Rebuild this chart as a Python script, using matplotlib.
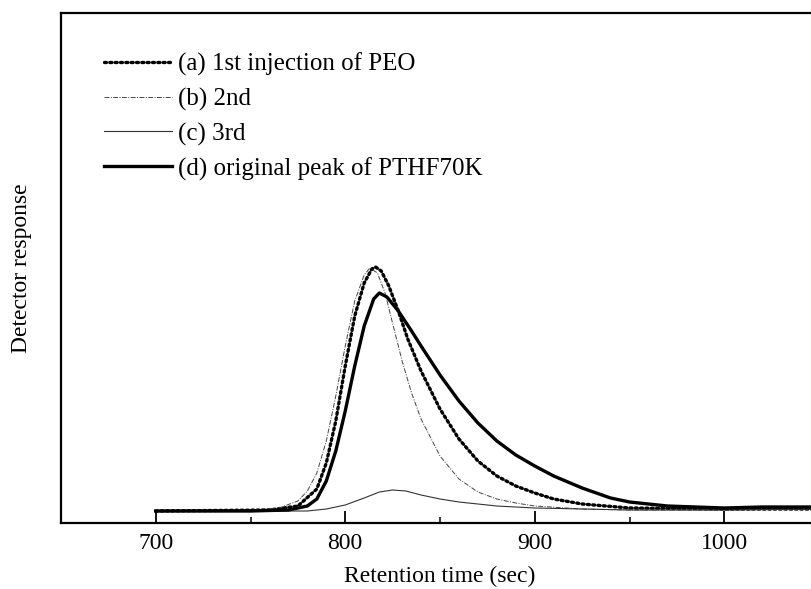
import matplotlib
matplotlib.use("Agg")
import matplotlib.pyplot as plt
from matplotlib.ticker import MultipleLocator

plt.rcParams['font.family'] = ['Liberation Serif', 'DejaVu Serif']

# retention time (sec) and detector response (arbitrary units)
t_a = [700, 760, 775, 785, 790, 795, 800, 805, 810, 814, 816, 819, 823, 828, 833,
       840, 850, 860, 870, 880, 890, 900, 910, 925, 950, 1000, 1050]
y_a = [0, 1, 5, 22, 48, 90, 145, 195, 228, 242, 244, 240, 225, 200, 172,
       140, 102, 72, 50, 35, 25, 18, 12, 7, 3, 2, 2]

t_b = [700, 750, 765, 775, 780, 785, 790, 795, 800, 805, 810, 813, 817, 821, 826,
       830, 835, 840, 850, 860, 870, 880, 890, 900, 925, 950, 1000, 1050]
y_b = [0, 1, 3, 10, 20, 38, 70, 115, 165, 210, 236, 243, 238, 218, 180,
       150, 118, 92, 55, 32, 19, 12, 8, 5, 2, 1, 1, 2]

t_c = [700, 780, 790, 800, 810, 818, 825, 832, 840, 850, 860, 870, 880, 900, 950,
       1000, 1050]
y_c = [0, 0, 2, 6, 13, 19, 21, 20, 16, 12, 9, 7, 5, 3, 1, 1, 2]

t_d = [700, 750, 770, 780, 785, 790, 795, 800, 805, 810, 815, 818, 822, 828, 835,
       840, 850, 860, 870, 880, 890, 900, 910, 925, 940, 950, 970, 1000, 1020, 1050]
y_d = [0, 0, 1, 5, 12, 30, 60, 100, 145, 185, 212, 218, 214, 200, 180,
       165, 136, 110, 88, 70, 56, 45, 35, 23, 13, 9, 5, 3, 4, 4]

labels = ['(a) 1st injection of PEO', '(b) 2nd', '(c) 3rd', '(d) original peak of PTHF70K']

fig = plt.figure(figsize=(8.11, 5.89), dpi=100)
ax = fig.add_axes([61 / 811, 1 - 523 / 589, (819 - 61) / 811, (523 - 13) / 589])

ax.plot(t_a, y_a, color='black', lw=2.4, linestyle=(0, (0.6, 1.0)),
        dash_capstyle='round', label=labels[0])
ax.plot(t_b, y_b, color='#444444', lw=0.7, linestyle=(0, (5, 1.5, 1, 1.5)), label=labels[1])
ax.plot(t_c, y_c, color='#333333', lw=0.8, label=labels[2])
ax.plot(t_d, y_d, color='black', lw=2.4, label=labels[3])

ax.set_xlim(650, 1050)
ax.set_ylim(-12, 498)
ax.xaxis.set_major_locator(MultipleLocator(100))
ax.xaxis.set_minor_locator(MultipleLocator(50))
ax.set_yticks([])
ax.tick_params(axis='x', which='major', direction='in', length=8.5, width=1.3,
               labelsize=17, pad=7)
ax.tick_params(axis='x', which='minor', direction='in', length=4.3, width=1.1)
for s in ax.spines.values():
    s.set_linewidth(1.6)

ax.set_xlabel('Retention time (sec)', fontsize=17, labelpad=9)
ax.set_ylabel('Detector response', fontsize=17, labelpad=21)

ax.legend(loc='upper left', frameon=False, fontsize=18, handlelength=2.7,
          handletextpad=0.25, labelspacing=0.46, borderaxespad=0, borderpad=0,
          bbox_to_anchor=((104 - 61) / 758, 1 - 40 / 510))

fig.savefig('out.png', dpi=100)
